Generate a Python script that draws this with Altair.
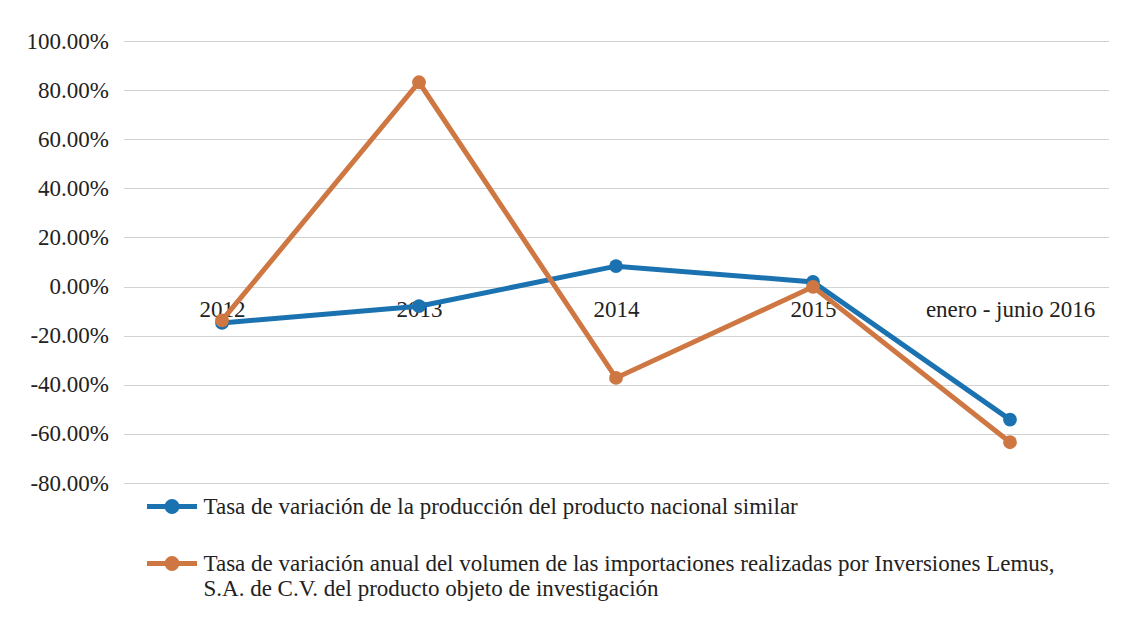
import altair as alt
import pandas as pd

categorias = ["2012", "2013", "2014", "2015", "enero - junio 2016"]
serie_nacional = "Tasa de variación de la producción del producto nacional similar"
serie_import = ("Tasa de variación anual del volumen de las importaciones realizadas por Inversiones Lemus,\n"
                "S.A. de C.V. del producto objeto de investigación")
valores_nacional = [-0.148, -0.080, 0.083, 0.019, -0.542]
valores_import = [-0.138, 0.832, -0.372, -0.001, -0.634]
colores = ["#1b72b0", "#cf7742"]

rows = []
for c, v in zip(categorias, valores_nacional):
    rows.append({"cat": c, "serie": serie_nacional, "valor": v})
for c, v in zip(categorias, valores_import):
    rows.append({"cat": c, "serie": serie_import, "valor": v})
df = pd.DataFrame(rows)

FONT = "Liberation Serif"
FS = 23

symbol_path = ("M-1,0L1,0"
               "M-0.2,0a0.2,0.2 0 1,0 0.4,0a0.2,0.2 0 1,0 -0.4,0"
               "M-0.08,0a0.08,0.08 0 1,0 0.16,0a0.08,0.08 0 1,0 -0.16,0")

x = alt.X("cat:N", sort=categorias, title=None,
          scale=alt.Scale(type="point", padding=0.5),
          axis=alt.Axis(labelAngle=0, offset=-196, domain=True, domainColor="#d2d2d2",
                        ticks=False, labelPadding=11, labelFont=FONT, labelFontSize=FS,
                        labelColor="#222222", grid=False))
y = alt.Y("valor:Q", title=None,
          scale=alt.Scale(domain=[-0.8, 1.0], nice=False, zero=False),
          axis=alt.Axis(values=[-0.8, -0.6, -0.4, -0.2, 0, 0.2, 0.4, 0.6, 0.8, 1.0],
                        labelExpr="replace(format(datum.value, '.2%'), '\u2212', '-')",
                        domain=False, ticks=False, labelPadding=15,
                        labelFont=FONT, labelFontSize=FS, labelColor="#222222",
                        gridColor="#d2d2d2", gridWidth=1))
color = alt.Color("serie:N", sort=[serie_nacional, serie_import],
                  scale=alt.Scale(domain=[serie_nacional, serie_import], range=colores),
                  legend=alt.Legend(title=None, orient="none", legendX=21, legendY=438,
                                    direction="vertical", symbolType=symbol_path,
                                    symbolSize=2500, symbolStrokeWidth=5,
                                    labelFont=FONT, labelFontSize=FS, labelColor="#222222",
                                    labelLimit=2000, labelOffset=4, rowPadding=14,
                                    labelExpr="split(datum.label, '\\n')"))

lines = alt.Chart(df).mark_line(strokeWidth=5).encode(x=x, y=y, color=color)
points = alt.Chart(df).mark_point(filled=True, size=190, opacity=1).encode(
    x=x, y=y, color=alt.Color("serie:N", sort=[serie_nacional, serie_import],
                              scale=alt.Scale(domain=[serie_nacional, serie_import], range=colores),
                              legend=None))

chart = alt.layer(lines, points).properties(
    width=985, height=442,
    autosize=alt.AutoSizeParams(type="none"),
    padding={"left": 115.5, "top": 33, "right": 6, "bottom": 140},
).configure(
    background="white", font=FONT,
    view=alt.ViewConfig(stroke=None),
    axis=alt.AxisConfig(labelFont=FONT),
    legend=alt.LegendConfig(labelFont=FONT),
)

chart.save("out.html", embed_options={"renderer": "svg", "actions": False})
